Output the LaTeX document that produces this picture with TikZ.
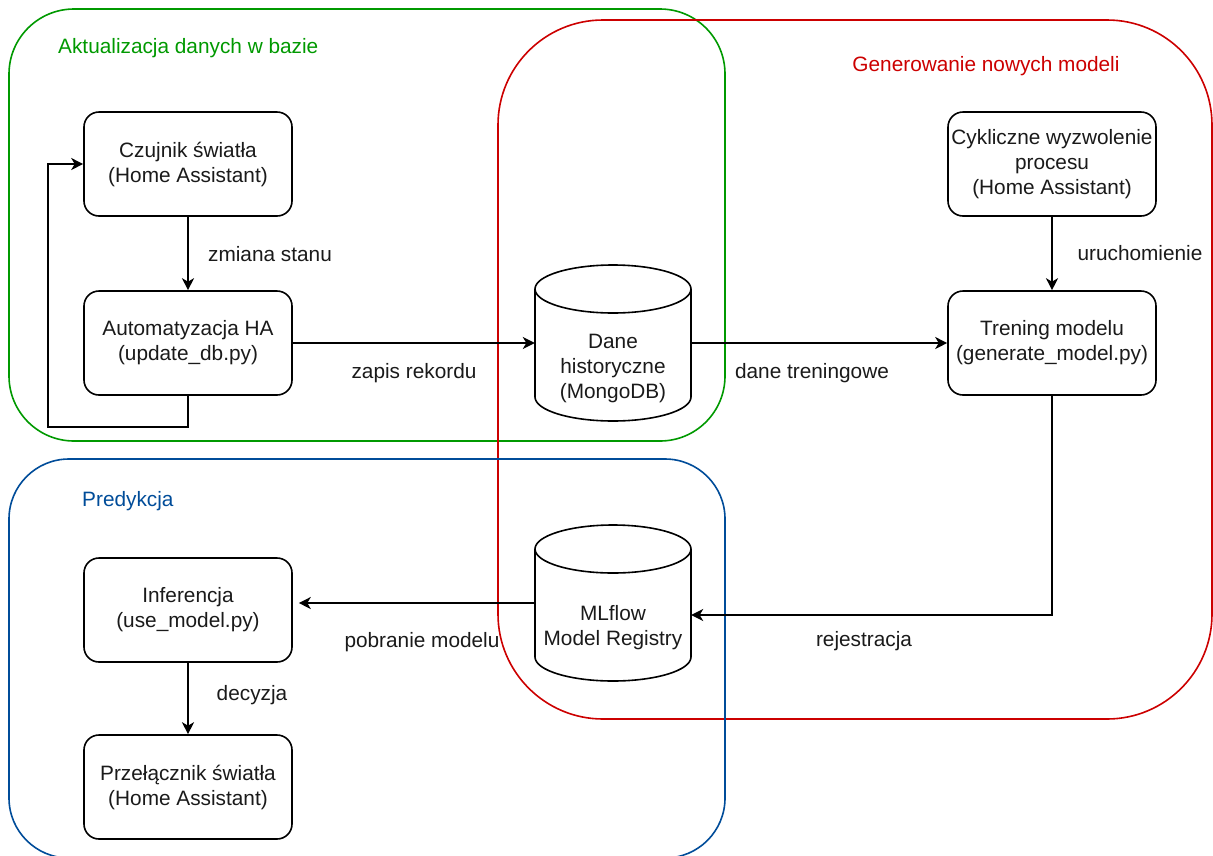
\documentclass[tikz,border=0pt]{standalone}
\usepackage{fontspec}
\setmainfont{Liberation Sans}
\usetikzlibrary{arrows.meta,calc}
\definecolor{cgreen}{HTML}{009900}
\definecolor{cred}{HTML}{CC0000}
\definecolor{cblue}{HTML}{004C99}
\definecolor{ctext}{HTML}{1A1A1A}
\begin{document}
\begin{tikzpicture}[x=1pt,y=-1pt,
  every node/.style={font=\fontsize{20.8}{25}\selectfont, text=ctext},
  box/.style={draw, line width=1.6pt, rounded corners=15pt, minimum width=208pt, minimum height=104pt, align=center, inner sep=0pt, fill=white},
  cylbox/.style={minimum width=156pt, minimum height=156pt, inner sep=0pt},
  cyltext/.style={align=center, inner sep=0pt},
  cont/.style={line width=1.6pt},
  arr/.style={draw, line width=1.6pt, -{Stealth[length=12pt,width=12pt,inset=3.5pt]}},
  lbl/.style={inner sep=0pt, text height=15pt, text depth=4.4pt}
]
\useasboundingbox (0,0) rectangle (1213,855);
\clip (0,0) rectangle (1213,855);

% containers
\draw[cgreen, cont, rounded corners=65pt] (9,9) rectangle (725,441);
\draw[cred, cont, rounded corners=105pt] (498,20) rectangle (1212,719);
\draw[cblue, cont, rounded corners=60pt] (9,459) rectangle (725,858);

\node[lbl, anchor=west, text=cgreen] (tg) at (58,48) {Aktualizacja danych w bazie};
\node[lbl, text=cred] (tgr) at (986,66) {Generowanie nowych modeli};
\node[lbl, anchor=west, text=cblue] (tb) at (82,501) {Predykcja};

% boxes
\node[box] (cz) at (188,164) {Czujnik światła\\(Home Assistant)};
\node[box] (au) at (188,343) {Automatyzacja HA\\(update\_db.py)};
\node[box] (inf) at (188,610) {Inferencja\\(use\_model.py)};
\node[box] (prz) at (188,787) {Przełącznik światła\\(Home Assistant)};
\node[box] (cyk) at (1052,164) {Cykliczne wyzwolenie\\procesu\\(Home Assistant)};
\node[box] (tr) at (1052,343) {Trening modelu\\(generate\_model.py)};

% cylinder: Dane historyczne
\node[cylbox] (dh) at (613,343) {};
\path[fill=white] (535,289) -- (535,397) .. controls (535,410.25) and (569.92,421) .. (613,421) .. controls (656.08,421) and (691,410.25) .. (691,397) -- (691,289) -- cycle;
\draw[line width=1.6pt] (535,289) -- (535,397) .. controls (535,410.25) and (569.92,421) .. (613,421) .. controls (656.08,421) and (691,410.25) .. (691,397) -- (691,289);
\draw[line width=1.6pt, fill=white] (613,289) ellipse [x radius=78, y radius=24];
\node[cyltext] (dht) at (613,368) {Dane\\historyczne\\(MongoDB)};

% cylinder: MLflow
\node[cylbox] (ml) at (613,603) {};
\path[fill=white] (535,549) -- (535,657) .. controls (535,670.25) and (569.92,681) .. (613,681) .. controls (656.08,681) and (691,670.25) .. (691,657) -- (691,549) -- cycle;
\draw[line width=1.6pt] (535,549) -- (535,657) .. controls (535,670.25) and (569.92,681) .. (613,681) .. controls (656.08,681) and (691,670.25) .. (691,657) -- (691,549);
\draw[line width=1.6pt, fill=white] (613,549) ellipse [x radius=78, y radius=24];
\node[cyltext] (mlt) at (613,628) {MLflow\\Model Registry};

% connectors
\coordinate (lp) at (48,427);
\draw[arr] (cz) -- (au);
\draw[arr] (au.south) |- (lp) |- (cz.west);
\draw[arr] (au) -- (dh);
\draw[arr] (dh) -- (tr);
\draw[arr] (cyk) -- (tr);
\draw[arr] (tr.south) |- ([yshift=-12pt]ml.east);
\draw[arr] (ml.west) -- ([xshift=6pt]inf.east |- ml.west);
\draw[arr] (inf) -- (prz);

% labels
\node[lbl] (l1) at (270,256) {zmiana stanu};
\node[lbl] (l2) at (414,373) {zapis rekordu};
\node[lbl] (l3) at (812,373) {dane treningowe};
\node[lbl] (l4) at (1140,255) {uruchomienie};
\node[lbl] (l5) at (864,641) {rejestracja};
\node[lbl] (l6) at (422,642) {pobranie modelu};
\node[lbl] (l7) at (252,695) {decyzja};
\end{tikzpicture}
\end{document}
